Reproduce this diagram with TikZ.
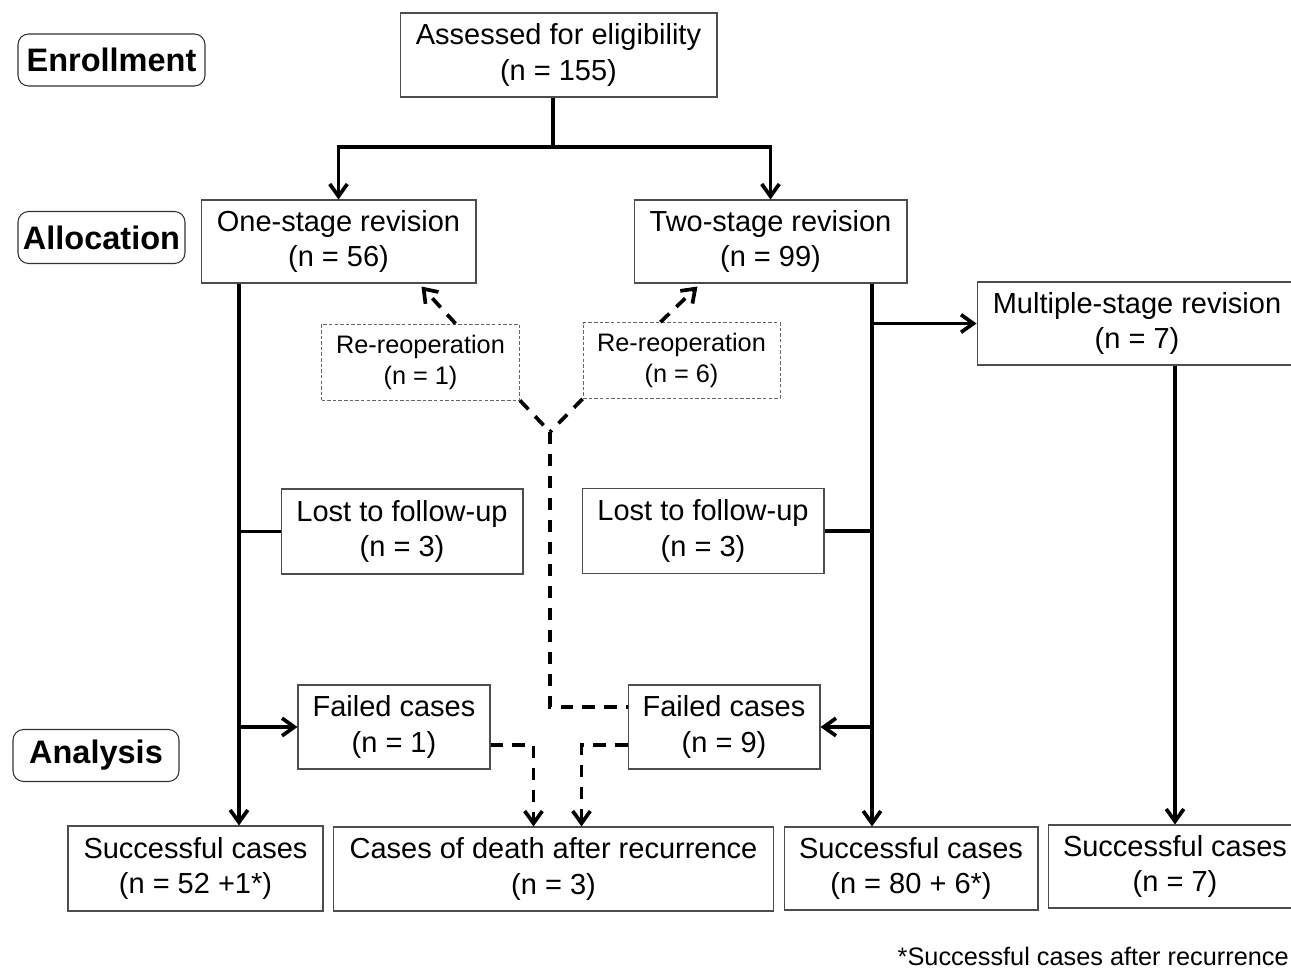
\documentclass[tikz,border=0pt]{standalone}
\usepackage{fontspec}
\setmainfont{Liberation Sans}
\usetikzlibrary{arrows.meta, positioning, calc}

\begin{document}
\begin{tikzpicture}[
      x=0.02cm, y=-0.02cm,
      box/.style={rectangle, draw=black!70, line width=0.6pt, align=center,
                  inner sep=0pt, minimum height=1.68cm,
                  font=\fontsize{16.5}{20}\selectfont},
      reop/.style={rectangle, draw=black!60, dash pattern=on 2pt off 1.2pt,
                   line width=0.5pt, align=center, inner sep=0pt,
                   minimum width=3.96cm, minimum height=1.52cm,
                   font=\fontsize{14.4}{17.6}\selectfont},
      phase/.style={rectangle, rounded corners=6pt, draw=black!80, line width=0.6pt,
                    inner sep=0pt, minimum height=1.04cm,
                    font=\fontsize{18.5}{22}\selectfont\bfseries},
      line/.style={line width=2.1pt},
      arr/.style={-{Straight Barb[length=7pt, width=10pt]}, line width=2.1pt},
      dline/.style={line width=2.1pt, dash pattern=on 7pt off 5.5pt},
      darr/.style={dline, -{Straight Barb[length=7pt, width=10pt]}}
    ]
    \useasboundingbox (0,0) rectangle (1291,969);
    \clip (0,0) rectangle (1291,969);

    % phases
    \node[phase, minimum width=3.74cm] (enrol) at (111.5,60) {Enrollment};
    \node[phase, minimum width=3.34cm] (alloc) at (101.5,237.5) {Allocation};
    \node[phase, minimum width=3.32cm] (anal) at (96,755.5) {Analysis};

    % boxes
    \node[box, minimum width=6.34cm] (assess) at (558.5,55) {Assessed for eligibility\\(n = 155)};
    \node[box, minimum width=5.5cm, minimum height=1.66cm] (one) at (338.5,241.5) {One-stage revision\\(n = 56)};
    \node[box, minimum width=5.46cm, minimum height=1.66cm] (two) at (770.5,241.5) {Two-stage revision\\(n = 99)};
    \node[box, minimum width=6.4cm, minimum height=1.66cm] (multi) at (1137,323.5) {Multiple-stage revision\\(n = 7)};
    \node[reop] (reopl) at (420.5,362) {Re-reoperation\\(n = 1)};
    \node[reop, minimum width=3.94cm] (reopr) at (681.5,360.5) {Re-reoperation\\(n = 6)};
    \node[box, minimum width=4.84cm, minimum height=1.7cm] (lostl) at (402,531.5) {Lost to follow-up\\(n = 3)};
    \node[box, minimum width=4.84cm, minimum height=1.7cm] (lostr) at (703,531) {Lost to follow-up\\(n = 3)};
    \node[box, minimum width=3.84cm] (faill) at (394,727) {Failed cases\\(n = 1)};
    \node[box, minimum width=3.84cm] (failr) at (724,727) {Failed cases\\(n = 9)};
    \node[box, minimum width=5.1cm, minimum height=1.7cm] (succl) at (195.5,868.5) {Successful cases\\(n = 52 +1*)};
    \node[box, minimum width=8.82cm] (death) at (553.5,869) {Cases of death after recurrence\\(n = 3)};
    \node[box, minimum width=5.08cm, minimum height=1.66cm] (succm) at (911,868.5) {Successful cases\\(n = 80 + 6*)};
    \node[box, minimum width=5.08cm, minimum height=1.66cm] (succr) at (1175,866.5) {Successful cases\\(n = 7)};
    \node[anchor=base east, inner sep=0pt, font=\fontsize{14.4}{17}\selectfont] (note) at (1289,965) {*Successful cases after recurrence};

    % solid connectors
    \coordinate (split) at (553,147);
    \coordinate (ltrunk) at (239,0);
    \coordinate (rtrunk) at (872,0);
    \draw[line] (assess.south -| split) -- (split);
    \draw[arr] (split) -| (one.north);
    \draw[arr] (split) -| (two.north);
    \draw[arr] (one.south -| ltrunk) -- (succl.north -| ltrunk);
    \draw[line] (lostl.west) -- (lostl.west -| ltrunk);
    \draw[arr] (faill.west -| ltrunk) -- (faill.west);
    \draw[arr] (two.south -| rtrunk) -- (succm.north -| rtrunk);
    \draw[arr] (multi.west -| rtrunk) -- (multi.west);
    \draw[line] (lostr.east) -- (lostr.east -| rtrunk);
    \draw[arr] (failr.east -| rtrunk) -- (failr.east);
    \draw[arr] (multi.south -| succr) -- (succr.north);

    % dashed connectors
    \coordinate (fork) at (550,432);
    \draw[dline] (reopl.south east) -- (fork);
    \draw[dline] (reopr.south west) -- (fork);
    \draw[dline] (fork) |- ($(failr.west)+(0,-20)$);
    \draw[darr] ($(reopl.north)+(35,0)$) -- ($(one.south)+(83,3)$);
    \draw[darr] ($(reopr.north)+(-21,0)$) -- ($(two.south)+(-73,3)$);
    \draw[darr] ($(faill.east)+(0,18)$) -| ($(death.north)+(-20,0)$);
    \draw[darr] ($(failr.west)+(0,18)$) -| ($(death.north)+(28,0)$);
  \end{tikzpicture}
\end{document}
